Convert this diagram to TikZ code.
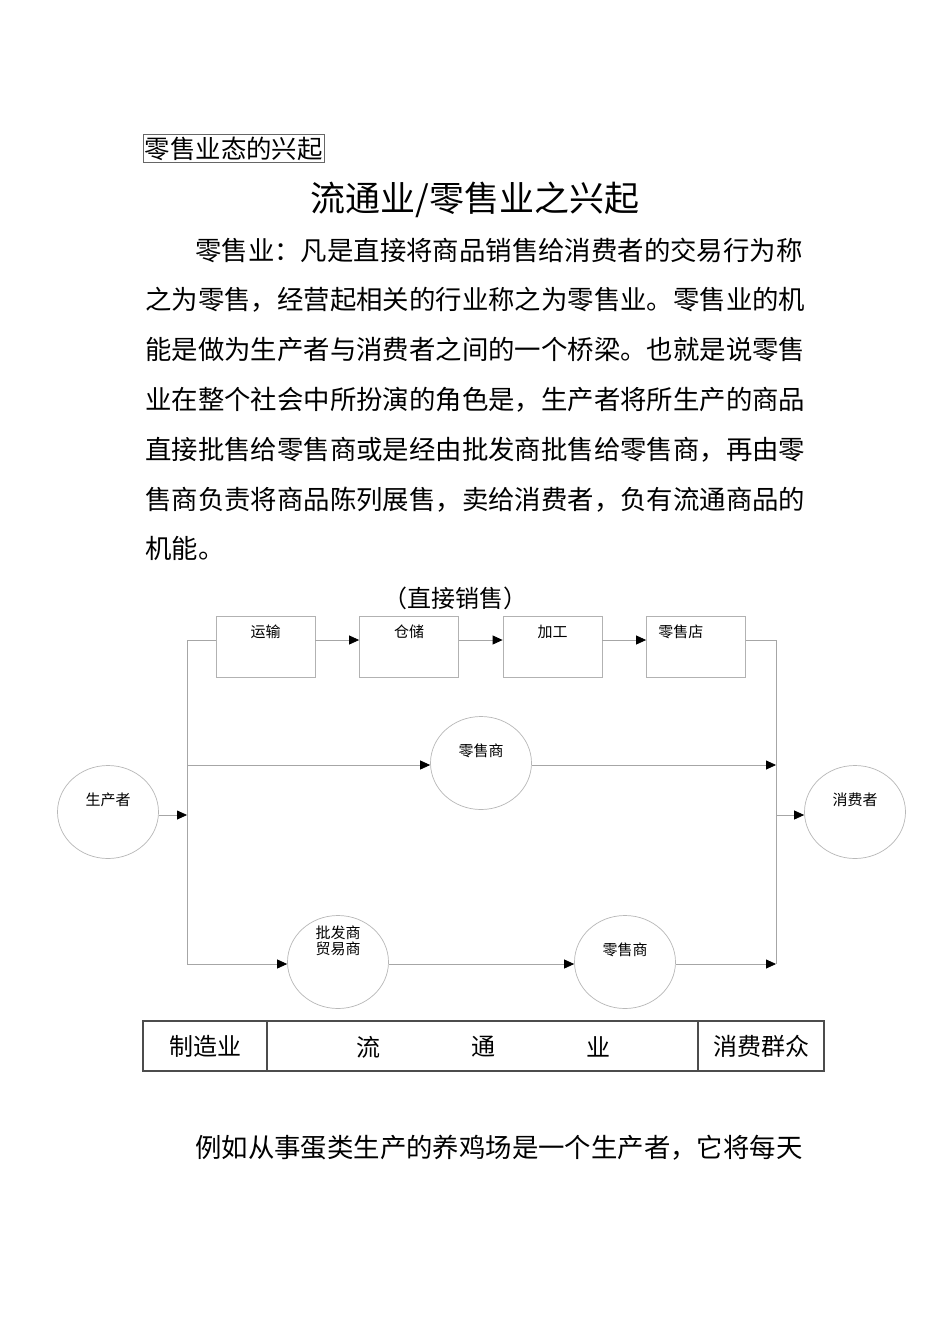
\documentclass[tikz,border=0pt]{standalone}
\usepackage{fontspec}
\setmainfont{Noto Sans CJK SC}
\usetikzlibrary{arrows.meta,shapes.geometric}
\begin{document}
\begin{tikzpicture}[x=1pt,y=-1pt,
  para/.style={anchor=west,inner sep=0pt,font=\fontsize{26.4pt}{26.4pt}\selectfont},
  lbl/.style={inner sep=0pt,font=\fontsize{15pt}{16pt}\selectfont,align=center},
  boxnode/.style={draw=black!30,line width=0.8pt,minimum width=99pt,minimum height=61pt,inner sep=0pt},
  circ/.style={ellipse,draw=black!28,line width=0.7pt,minimum width=101pt,minimum height=93pt,inner sep=0pt},
  conn/.style={draw=black!35,line width=0.8pt},
  arr/.style={conn,-{Triangle[length=10pt,width=9pt,color=black]}},
  tcell/.style={draw=black!70,line width=1.1pt,minimum height=50pt,inner sep=0pt,font=\fontsize{24pt}{24pt}\selectfont}
]
\useasboundingbox (0,0) rectangle (950,1344);
\fill[white] (0,0) rectangle (950,1344);

% header
\node[draw=black!60,line width=0.9pt,inner xsep=1.5pt,inner ysep=2pt,font=\fontsize{25.4pt}{25.4pt}\selectfont,anchor=west] (hd) at (143,148.5) {零售业态的兴起};
\node[inner sep=0pt,font=\fontsize{35pt}{35pt}\selectfont] (title) at (475,200) {流通业/零售业之兴起};

% paragraph
\node[para] (p1) at (195,250) {零售业：凡是直接将商品销售给消费者的交易行为称};
\node[para] (p2) at (145,300) {之为零售，经营起相关的行业称之为零售业。零售业的机};
\node[para] (p3) at (145,350) {能是做为生产者与消费者之间的一个桥梁。也就是说零售};
\node[para] (p4) at (145,400) {业在整个社会中所扮演的角色是，生产者将所生产的商品};
\node[para] (p5) at (145,450) {直接批售给零售商或是经由批发商批售给零售商，再由零};
\node[para] (p6) at (145,500) {售商负责将商品陈列展售，卖给消费者，负有流通商品的};
\node[para] (p7) at (145,548) {机能。};

\node[inner sep=0pt,font=\fontsize{24pt}{24pt}\selectfont] (sub) at (455,598) {（直接销售）};

% boxes
\node[boxnode,label={[lbl,anchor=north,yshift=-9pt]north:运输}] (ys) at (265.5,646.5) {};
\node[boxnode,label={[lbl,anchor=north,yshift=-9pt]north:仓储}] (cc) at (409,646.5) {};
\node[boxnode,label={[lbl,anchor=north,yshift=-9pt]north:加工}] (jg) at (552.5,646.5) {};
\node[boxnode,label={[lbl,anchor=north west,xshift=12pt,yshift=-9pt]north west:零售店}] (ls) at (696,646.5) {};

% circles
\node[circ,label={[lbl,yshift=12pt]center:生产者}] (sc) at (108,812) {};
\node[circ,label={[lbl,yshift=12pt]center:零售商}] (rm) at (481,763) {};
\node[circ,label={[lbl,yshift=12pt]center:消费者}] (xf) at (855,812) {};
\node[circ,label={[lbl,yshift=21pt]center:批发商\\贸易商}] (pf) at (338,962) {};
\node[circ,label={[lbl,yshift=12pt]center:零售商}] (rb) at (625,962) {};

% branch points
\coordinate (L1) at (187,640);
\coordinate (L2) at (187,765);
\coordinate (L3) at (187,964);
\coordinate (LP) at (187,815);
\coordinate (R1) at (776,640);
\coordinate (R2) at (776,765);
\coordinate (R3) at (776,964);
\coordinate (RP) at (776,815);

% top chain
\draw[conn] (ys.west |- L1) -- (L1) -- (L3);
\draw[arr] (ys.east |- L1) -- (cc.west |- L1);
\draw[arr] (cc.east |- L1) -- (jg.west |- L1);
\draw[arr] (jg.east |- L1) -- (ls.west |- L1);
\draw[conn] (ls.east |- R1) -- (R1) -- (R3);

% producer
\draw[arr] (sc.east |- LP) -- (LP);
% middle
\draw[arr] (L2) -- (rm.west |- L2);
\draw[arr] (rm.east |- R2) -- (R2);
% bottom
\draw[arr] (L3) -- (pf.west |- L3);
\draw[arr] (pf.east |- L3) -- (rb.west |- L3);
\draw[arr] (rb.east |- R3) -- (R3);
% consumer
\draw[arr] (RP) -- (xf.west |- RP);

% table
\node[tcell,minimum width=124pt] (t1) at (205,1046) {制造业};
\node[tcell,minimum width=431pt] (t2) at (482.5,1046) {};
\node[tcell,minimum width=126pt] (t3) at (761,1046) {消费群众};
\node[inner sep=0pt,font=\fontsize{24pt}{24pt}\selectfont] (tl1) at (368,1047) {流};
\node[inner sep=0pt,font=\fontsize{24pt}{24pt}\selectfont] (tl2) at (483,1047) {通};
\node[inner sep=0pt,font=\fontsize{24pt}{24pt}\selectfont] (tl3) at (598,1047) {业};

\node[para] (p8) at (195,1148) {例如从事蛋类生产的养鸡场是一个生产者，它将每天};
\end{tikzpicture}
\end{document}
